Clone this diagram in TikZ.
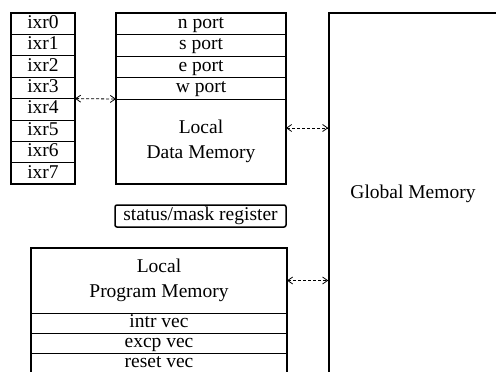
\documentclass[tikz,border=0pt]{standalone}
\usepackage{fontspec}
\setmainfont{Liberation Serif}
\usetikzlibrary{arrows.meta, calc, positioning}

\begin{document}
\begin{tikzpicture}[
	x=1pt, y=-1pt,
	line width=1pt,
	font=\fontsize{19.5}{24.5}\selectfont,
	cell/.style={draw, inner sep=0pt, outer sep=0pt, minimum height=21.4pt},
	row/.style={cell, text height=13pt, text depth=4pt},
	frame/.style={line width=1.5pt},
	bus/.style={{Straight Barb[length=5pt,width=7pt]}-{Straight Barb[length=5pt,width=7pt]},
		line width=0.8pt, dash pattern=on 3pt off 2pt}
	]
\useasboundingbox (0,0) rectangle (496,372);
\clip (0,0) rectangle (496,372);

\foreach \i in {0,...,7}
	\node[row, minimum width=64pt] (ixr\i) at (43, 23.7+21.4*\i) {ixr\i};
\draw[frame] (ixr0.north west) rectangle (ixr7.south east);

\foreach \p [count=\i from 0] in {n,s,e,w}
	\node[row, minimum width=170pt, minimum height=21.5pt] (\p-port) at (201, 23.75+21.5*\i) {\p{} port};
\node[cell, minimum width=170pt, minimum height=85pt, align=center, below=0pt of w-port] (ldm) {Local\\Data Memory};
\draw[frame] (n-port.north west) rectangle (ldm.south east);

\node[draw, frame, rounded corners=2pt, inner sep=0pt, minimum width=171pt, minimum height=22pt, text height=13pt, text depth=4pt] (smr) at (200.5, 216) {status/mask register};

\node[cell, minimum width=256pt, minimum height=65pt, align=center] (lpm) at (159, 280.5) {Local\\Program Memory};
\foreach \v [count=\i from 0] in {intr,excp,reset}
	\node[row, minimum width=256pt, minimum height=20pt] (\v-vec) at (159, 323+20*\i) {\v{} vec};
\draw[frame] (lpm.north west) rectangle (reset-vec.south east);

\node[draw, frame, minimum width=168pt, minimum height=362pt] (gm) at (413, 194) {Global Memory};

\draw[bus] (ixr3.south east) -- (w-port.south west);
\draw[bus] ([yshift=13.5pt]ldm.east) -- ([yshift=13.5pt]ldm.east -| gm.west);
\draw[bus] (lpm.east) -- (lpm.east -| gm.west);
\end{tikzpicture}
\end{document}
